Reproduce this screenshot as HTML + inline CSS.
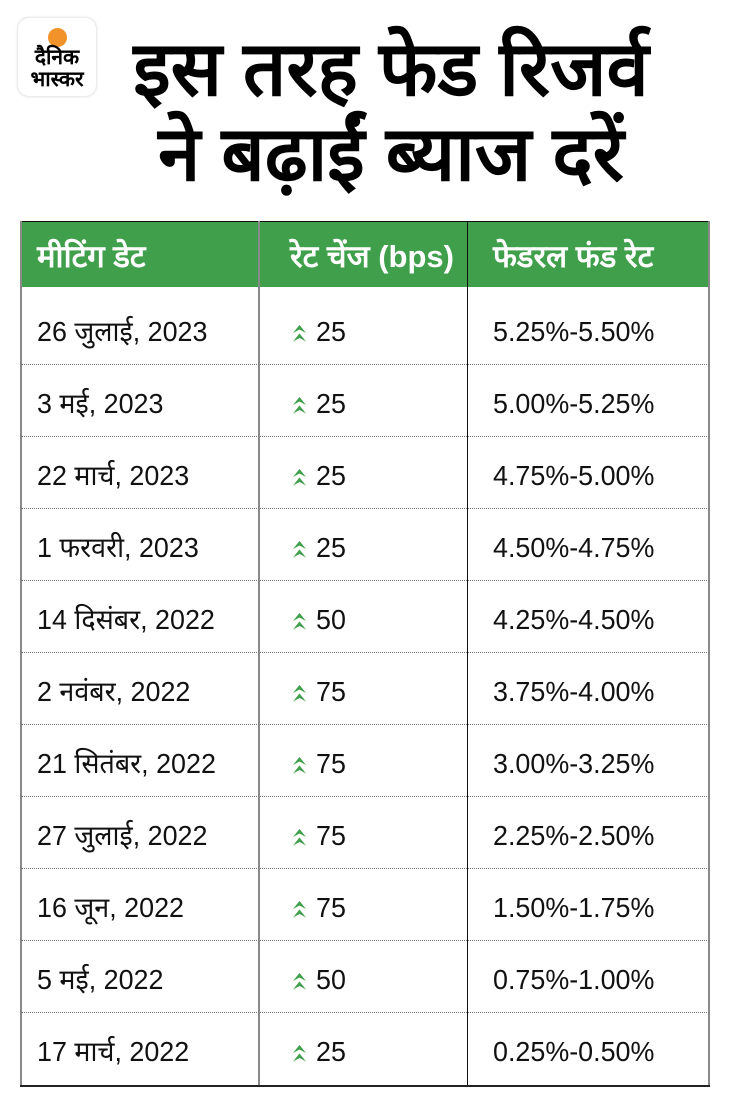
<!DOCTYPE html>
<html><head><meta charset="utf-8">
<style>
html,body{margin:0;padding:0;background:#fff;}
body{width:730px;height:1107px;position:relative;overflow:hidden;font-family:"Liberation Sans",sans-serif;}
.a{position:absolute;white-space:nowrap;}
.t{font-size:76px;font-weight:bold;color:#000;line-height:76px;left:100px;width:582px;text-align:center;}
.h{font-size:31px;font-weight:bold;color:#fff;line-height:31px;transform-origin:left center;}
.c{font-size:28px;color:#111;line-height:28px;transform-origin:left center;transform:scaleX(0.96);}
.vl{position:absolute;top:221px;height:866px;}
.hl{position:absolute;left:21px;width:688px;height:0;border-top:1px dotted #777;}
</style></head><body>

<!-- logo -->
<div class="a" style="left:18px;top:18px;width:78px;height:78px;border-radius:11px;background:#fff;box-shadow:0 0 2px 1px #e2e2e2;"></div>
<div class="a" style="left:48px;top:28px;width:19px;height:19px;border-radius:50%;background:#f2922b;"></div>
<div class="a" style="left:16px;top:47px;width:82px;text-align:center;font-size:21px;font-weight:bold;line-height:22px;">दैनिक</div>
<div class="a" style="left:16px;top:69px;width:82px;text-align:center;font-size:21px;font-weight:bold;line-height:22px;">भास्कर</div>

<!-- title -->
<div class="a t" style="top:32px;">इस तरह फेड रिजर्व</div>
<div class="a t" style="top:117px;">ने बढ़ाईं ब्याज दरें</div>

<!-- header -->
<div class="a" style="left:20px;top:221px;width:690px;height:66px;background:#3f9f4b;border-top:1px solid #111;box-sizing:border-box;"></div>
<div class="a h" style="left:37px;top:241px;">मीटिंग डेट</div>
<div class="a h" style="left:290px;top:241px;">रेट चेंज (bps)</div>
<div class="a h" style="left:493px;top:241px;">फेडरल फंड रेट</div>

<!-- grid lines -->
<div class="vl" style="left:20px;width:2px;background:#8a8a8a;"></div>
<div class="vl" style="left:258px;width:2px;background:#8a8a8a;"></div>
<div class="vl" style="left:467px;width:1px;background:#111;"></div>
<div class="vl" style="left:708px;width:2px;background:#8a8a8a;"></div>
<div class="a" style="left:20px;top:1085px;width:690px;height:2px;background:#222;"></div>

<div class="hl" style="top:364px;"></div>
<div class="hl" style="top:436px;"></div>
<div class="hl" style="top:508px;"></div>
<div class="hl" style="top:580px;"></div>
<div class="hl" style="top:652px;"></div>
<div class="hl" style="top:724px;"></div>
<div class="hl" style="top:796px;"></div>
<div class="hl" style="top:868px;"></div>
<div class="hl" style="top:940px;"></div>
<div class="hl" style="top:1012px;"></div>

<!-- arrows -->
<svg class="a" style="left:0;top:0;" width="730" height="1107">
<defs><g id="ar"><polygon points="0,9 6.5,1 13,9 6.5,5.5" fill="#3f9f4b"/><polygon points="0,17.5 6.5,9.5 13,17.5 6.5,14" fill="#3f9f4b"/></g></defs>
<use href="#ar" x="293" y="324"/>
<use href="#ar" x="293" y="396"/>
<use href="#ar" x="293" y="468"/>
<use href="#ar" x="293" y="540"/>
<use href="#ar" x="293" y="612"/>
<use href="#ar" x="293" y="684"/>
<use href="#ar" x="293" y="756"/>
<use href="#ar" x="293" y="828"/>
<use href="#ar" x="293" y="900"/>
<use href="#ar" x="293" y="972"/>
<use href="#ar" x="293" y="1044"/>
</svg>

<!-- rows -->
<div class="a c" style="left:37px;top:318px;">26 जुलाई, 2023</div>
<div class="a c" style="left:316px;top:318px;">25</div>
<div class="a c" style="left:493px;top:318px;">5.25%-5.50%</div>

<div class="a c" style="left:37px;top:390px;">3 मई, 2023</div>
<div class="a c" style="left:316px;top:390px;">25</div>
<div class="a c" style="left:493px;top:390px;">5.00%-5.25%</div>

<div class="a c" style="left:37px;top:462px;">22 मार्च, 2023</div>
<div class="a c" style="left:316px;top:462px;">25</div>
<div class="a c" style="left:493px;top:462px;">4.75%-5.00%</div>

<div class="a c" style="left:37px;top:534px;">1 फरवरी, 2023</div>
<div class="a c" style="left:316px;top:534px;">25</div>
<div class="a c" style="left:493px;top:534px;">4.50%-4.75%</div>

<div class="a c" style="left:37px;top:606px;">14 दिसंबर, 2022</div>
<div class="a c" style="left:316px;top:606px;">50</div>
<div class="a c" style="left:493px;top:606px;">4.25%-4.50%</div>

<div class="a c" style="left:37px;top:678px;">2 नवंबर, 2022</div>
<div class="a c" style="left:316px;top:678px;">75</div>
<div class="a c" style="left:493px;top:678px;">3.75%-4.00%</div>

<div class="a c" style="left:37px;top:750px;">21 सितंबर, 2022</div>
<div class="a c" style="left:316px;top:750px;">75</div>
<div class="a c" style="left:493px;top:750px;">3.00%-3.25%</div>

<div class="a c" style="left:37px;top:822px;">27 जुलाई, 2022</div>
<div class="a c" style="left:316px;top:822px;">75</div>
<div class="a c" style="left:493px;top:822px;">2.25%-2.50%</div>

<div class="a c" style="left:37px;top:894px;">16 जून, 2022</div>
<div class="a c" style="left:316px;top:894px;">75</div>
<div class="a c" style="left:493px;top:894px;">1.50%-1.75%</div>

<div class="a c" style="left:37px;top:966px;">5 मई, 2022</div>
<div class="a c" style="left:316px;top:966px;">50</div>
<div class="a c" style="left:493px;top:966px;">0.75%-1.00%</div>

<div class="a c" style="left:37px;top:1038px;">17 मार्च, 2022</div>
<div class="a c" style="left:316px;top:1038px;">25</div>
<div class="a c" style="left:493px;top:1038px;">0.25%-0.50%</div>

</body></html>
